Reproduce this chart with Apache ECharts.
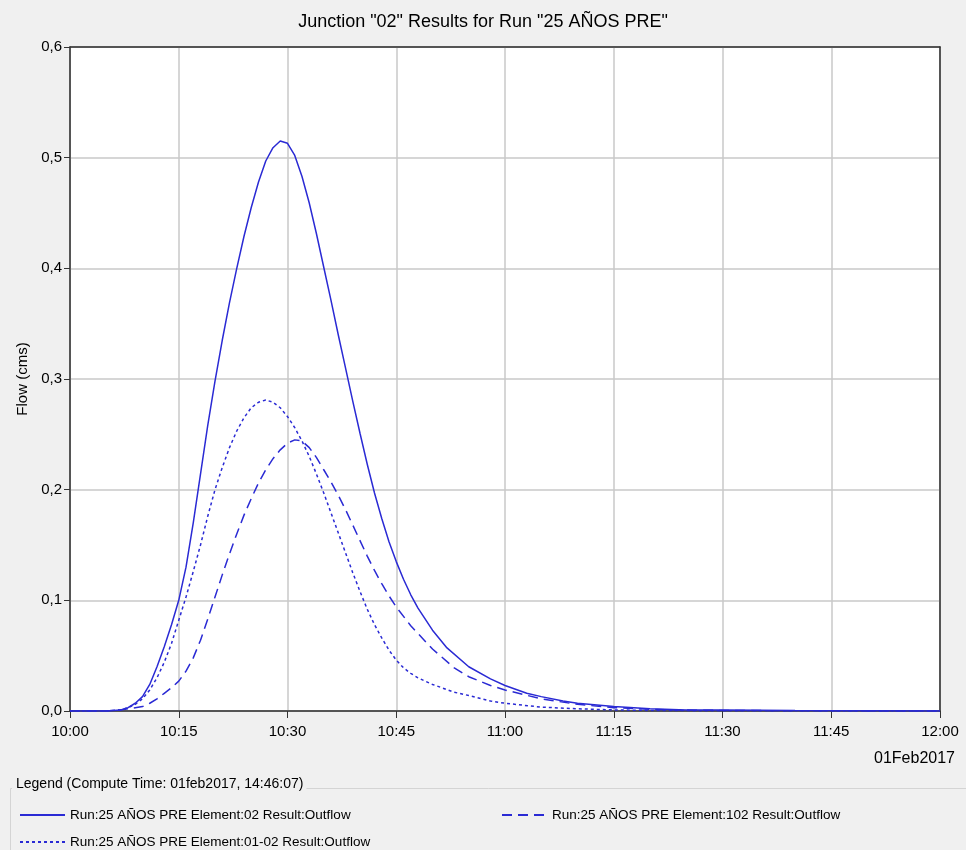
<!DOCTYPE html>
<html>
<head>
<meta charset="utf-8">
<script src="https://cdn.jsdelivr.net/npm/echarts@6/dist/echarts.min.js"></script>
<style>
html,body{margin:0;padding:0;background:#f0f0f0;}
#chart{width:966px;height:850px;}
</style>
</head>
<body>
<div id="chart"></div>
<script>
// ---- data (minutes after 10:00, flow in cms) ----
var seriesNames = [
  'Run:25 AÑOS PRE Element:02 Result:Outflow',
  'Run:25 AÑOS PRE Element:102 Result:Outflow',
  'Run:25 AÑOS PRE Element:01-02 Result:Outflow'
];
var xTickValues = [0, 15, 30, 45, 60, 75, 90, 105, 120];
var xTickLabels = ['10:00', '10:15', '10:30', '10:45', '11:00', '11:15', '11:30', '11:45', '12:00'];
var yTickValues = [0, 0.1, 0.2, 0.3, 0.4, 0.5, 0.6];
var yTickLabels = ['0,0', '0,1', '0,2', '0,3', '0,4', '0,5', '0,6'];

var solidT = [0, 5, 7, 8, 9, 10, 11, 12, 13, 14, 15, 16, 17, 18, 19, 20, 21, 22, 23, 24, 25, 26, 27, 28, 29, 30, 31, 32, 33, 34, 35, 36, 37, 38, 39, 40, 41, 42, 43, 44, 45, 46, 47, 48, 50, 52, 55, 58, 60, 63, 65, 68, 70, 75, 80, 85, 90, 100, 120];
var solidV = [0, 0, 0.001, 0.003, 0.007, 0.013, 0.024, 0.040, 0.058, 0.078, 0.100, 0.130, 0.170, 0.214, 0.258, 0.298, 0.335, 0.369, 0.400, 0.429, 0.455, 0.478, 0.497, 0.509, 0.515, 0.513, 0.502, 0.483, 0.459, 0.431, 0.401, 0.371, 0.340, 0.310, 0.280, 0.251, 0.223, 0.197, 0.174, 0.153, 0.135, 0.119, 0.105, 0.093, 0.073, 0.057, 0.040, 0.029, 0.023, 0.016, 0.013, 0.009, 0.007, 0.004, 0.002, 0.001, 0.001, 0.0005, 0];

var dashT = [0, 5, 7, 8, 10, 11, 12, 13, 14, 15, 16, 17, 18, 19, 20, 21, 22, 23, 24, 25, 26, 27, 28, 29, 30, 31, 32, 33, 34, 35, 36, 37, 38, 39, 40, 41, 42, 43, 44, 45, 47, 50, 53, 55, 58, 60, 65, 70, 75, 80, 85, 90, 100, 120];
var dashV = [0, 0, 0.001, 0.002, 0.004, 0.007, 0.011, 0.016, 0.021, 0.027, 0.036, 0.048, 0.064, 0.083, 0.103, 0.123, 0.142, 0.160, 0.177, 0.192, 0.206, 0.218, 0.228, 0.236, 0.242, 0.245, 0.244, 0.238, 0.229, 0.218, 0.207, 0.195, 0.182, 0.168, 0.154, 0.140, 0.127, 0.115, 0.104, 0.094, 0.077, 0.056, 0.039, 0.031, 0.023, 0.019, 0.011, 0.006, 0.003, 0.0015, 0.0008, 0.0005, 0.0002, 0];

var dotT = [0, 5, 7, 8, 9, 10, 11, 12, 13, 14, 15, 16, 17, 18, 19, 20, 21, 22, 23, 24, 25, 26, 27, 28, 29, 30, 31, 32, 33, 34, 35, 36, 37, 38, 39, 40, 41, 42, 43, 44, 45, 46, 47, 48, 50, 53, 55, 58, 60, 65, 70, 75, 80, 90, 120];
var dotV = [0, 0, 0.001, 0.003, 0.006, 0.011, 0.019, 0.030, 0.044, 0.061, 0.082, 0.103, 0.126, 0.150, 0.176, 0.200, 0.220, 0.238, 0.253, 0.265, 0.274, 0.279, 0.281, 0.279, 0.274, 0.266, 0.256, 0.244, 0.230, 0.214, 0.197, 0.179, 0.161, 0.143, 0.125, 0.108, 0.092, 0.078, 0.066, 0.055, 0.046, 0.039, 0.034, 0.030, 0.024, 0.017, 0.014, 0.009, 0.007, 0.0035, 0.002, 0.001, 0.0005, 0.0002, 0];

function pairs(t, v) { return t.map(function (x, i) { return [x, v[i]]; }); }

var LINE = '#2a2ad4';
var AXIS = '#333333';
var FONT = '"Liberation Sans Narrow", "Liberation Sans", Arial, sans-serif';

var chart = echarts.init(document.getElementById('chart'), null, { renderer: 'canvas' });

function legendFor(name, left, top) {
  return {
    data: [name],
    left: left, top: top,
    orient: 'horizontal',
    itemWidth: 45, itemHeight: 12, itemGap: 6,
    selectedMode: false,
    itemStyle: { opacity: 0 },
    textStyle: { fontFamily: FONT, fontSize: 13.5, color: '#000' }
  };
}

function lineSeries(name, t, v, dash, z) {
  return {
    name: name, type: 'line', data: pairs(t, v),
    symbol: 'none', showSymbol: false, smooth: false, z: z,
    lineStyle: { color: LINE, width: 1.5, type: dash }, itemStyle: { color: LINE }
  };
}

function frameAxis(base) {
  return Object.assign({
    type: 'value', axisLabel: { show: false }, axisTick: { show: false }, splitLine: { show: false },
    axisLine: { show: true, onZero: false, lineStyle: { color: AXIS, width: 1.5 } }
  }, base);
}

var option = {
  backgroundColor: '#f0f0f0',
  animation: false,
  title: {
    text: 'Junction "02" Results for Run "25 AÑOS PRE"',
    left: 'center', top: 8,
    textStyle: { fontFamily: FONT, fontSize: 18, fontWeight: 'normal', color: '#000' }
  },
  grid: { left: 70, right: 26, top: 47, bottom: 139, show: true, backgroundColor: '#ffffff', borderColor: AXIS, borderWidth: 1 },
  legend: [
    legendFor(seriesNames[0], 14, 803),
    legendFor(seriesNames[1], 496, 803),
    legendFor(seriesNames[2], 14, 830)
  ],
  xAxis: [{
    type: 'value', min: 0, max: 120, interval: 15,
    axisLine: { show: true, lineStyle: { color: AXIS, width: 1.5 } },
    axisTick: { show: true, inside: false, length: 7, lineStyle: { color: AXIS } },
    splitLine: { show: true, lineStyle: { color: '#c8c8c8', width: 1.5 } },
    axisLabel: {
      fontFamily: FONT, fontSize: 15, color: '#000', margin: 13,
      formatter: function (v) { var i = xTickValues.indexOf(v); return i >= 0 ? xTickLabels[i] : ''; }
    }
  }, frameAxis({ position: 'top', min: 0, max: 120 })],
  yAxis: [{
    type: 'value', min: 0, max: 0.6, interval: 0.1,
    name: 'Flow (cms)', nameLocation: 'middle', nameGap: 40, nameRotate: 90,
    nameTextStyle: { fontFamily: FONT, fontSize: 15, color: '#000' },
    axisLine: { show: true, lineStyle: { color: AXIS, width: 1.5 } },
    axisTick: { show: true, inside: false, length: 6, lineStyle: { color: AXIS } },
    splitLine: { show: true, lineStyle: { color: '#c8c8c8', width: 1.5 } },
    axisLabel: {
      fontFamily: FONT, fontSize: 15, color: '#000', margin: 8,
      formatter: function (v) {
        for (var i = 0; i < yTickValues.length; i++) { if (Math.abs(yTickValues[i] - v) < 1e-9) return yTickLabels[i]; }
        return '';
      }
    }
  }, frameAxis({ position: 'right', min: 0, max: 0.6 })],
  graphic: [
    {
      type: 'rect', left: 8, top: 786, z: -1, silent: true,
      shape: { width: 970, height: 80 },
      style: { fill: 'none', stroke: '#d4d4d4', lineWidth: 1 }
    },
    {
      type: 'text', left: 12, top: 777, z: 10, silent: true,
      style: { text: 'Legend (Compute Time: 01feb2017, 14:46:07)', fill: '#000', font: '14px ' + FONT, backgroundColor: '#f0f0f0', padding: [0, 3, 0, 4] }
    },
    {
      type: 'text', right: 11, top: 751, silent: true,
      style: { text: '01Feb2017', fill: '#000', font: '16px ' + FONT }
    }
  ],
  series: [
    lineSeries(seriesNames[0], solidT, solidV, 'solid', 3),
    lineSeries(seriesNames[1], dashT, dashV, [10, 6], 2),
    lineSeries(seriesNames[2], dotT, dotV, [3, 3], 2)
  ]
};
chart.setOption(option);
</script>
</body>
</html>
